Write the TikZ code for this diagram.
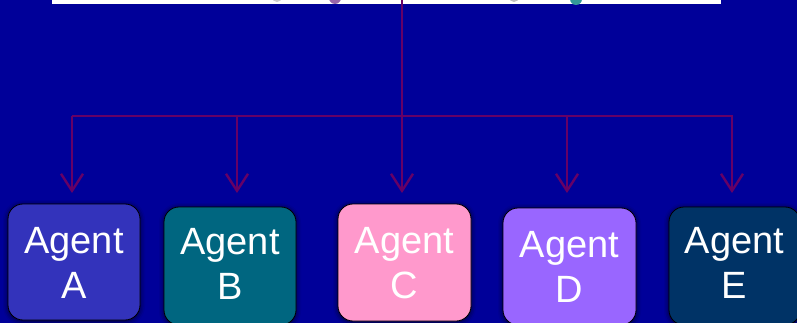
\documentclass[tikz,border=0pt]{standalone}
\usepackage{fontspec}
\setmainfont{Liberation Sans}
\usetikzlibrary{arrows.meta,shadows.blur}
\definecolor{bgblue}{HTML}{000099}
\definecolor{linkpurple}{HTML}{660066}
\definecolor{colA}{HTML}{3333BB}
\definecolor{colB}{HTML}{006680}
\definecolor{colC}{HTML}{FF99CC}
\definecolor{colD}{HTML}{9966FF}
\definecolor{colE}{HTML}{003366}
\definecolor{dotpurple}{HTML}{9966AA}
\definecolor{dotteal}{HTML}{339999}
\tikzset{
  agentbox/.style={draw=black, line width=0.8pt, rounded corners=15pt, inner sep=0pt,
    blur shadow={shadow xshift=0pt, shadow yshift=-1pt, shadow blur radius=5pt, shadow opacity=75}},
  agentlbl/.style={text=white, align=center, inner sep=0pt, font=\fontsize{38}{45}\selectfont},
  link/.style={draw=linkpurple, line width=2.4pt},
  linkarrow/.style={link, -{Straight Barb[length=17pt, width=22pt, line width=2.4pt]}},
}
\begin{document}
\begin{tikzpicture}[x=1pt, y=-1pt]
  \fill[bgblue] (0,0) rectangle (797,323);
  \useasboundingbox (0,0) rectangle (797,323);
  % top white panel (cut off)
  \begin{scope}
    \clip (0,0) rectangle (797,6);
    \fill[white] (52,-5) rectangle (721,4);
    \fill[gray!40] (277,-3) circle (5);
    \fill[dotpurple] (335,-2) circle (6);
    \fill[gray!50] (514,-3) circle (5);
    \fill[dotteal] (576,-1) circle (6);
  \end{scope}
  % boxes
  \node[agentbox, fill=colA, minimum width=132, minimum height=116] (boxA) at (74,262) {};
  \node[agentbox, fill=colB, minimum width=132, minimum height=118] (boxB) at (230,266) {};
  \node[agentbox, fill=colC, minimum width=133, minimum height=117] (boxC) at (404.5,262.5) {};
  \node[agentbox, fill=colD, minimum width=133, minimum height=117] (boxD) at (569.5,266.5) {};
  \node[agentbox, fill=colE, minimum width=131, minimum height=118] (boxE) at (734.5,266) {};
  % labels
  \node[agentlbl] (labA) at (74,263) {Agent\\A};
  \node[agentlbl] (labB) at (230,263.5) {Agent\\B};
  \node[agentlbl] (labC) at (404.5,263) {Agent\\C};
  \node[agentlbl] (labD) at (569.5,267) {Agent\\D};
  \node[agentlbl] (labE) at (734.5,263) {Agent\\E};
  % connectors
  \coordinate (src) at (402,-2);
  \coordinate (hub) at (402,116);
  \coordinate (busL) at (72,116);
  \coordinate (busR) at (733,116);
  \coordinate (tipA) at (72,193);
  \coordinate (tipB) at (237,193);
  \coordinate (tipC) at (402,193);
  \coordinate (tipD) at (567,193);
  \coordinate (tipE) at (732,193);
  \draw[link] (src) -- (hub);
  \draw[link] (busL) -- (busR);
  \draw[linkarrow] (busL) -- (tipA);
  \draw[linkarrow] (tipB |- busL) -- (tipB);
  \draw[linkarrow] (hub) -- (tipC);
  \draw[linkarrow] (tipD |- busL) -- (tipD);
  \draw[linkarrow] (tipE |- busL) -- (tipE);
\end{tikzpicture}
\end{document}
